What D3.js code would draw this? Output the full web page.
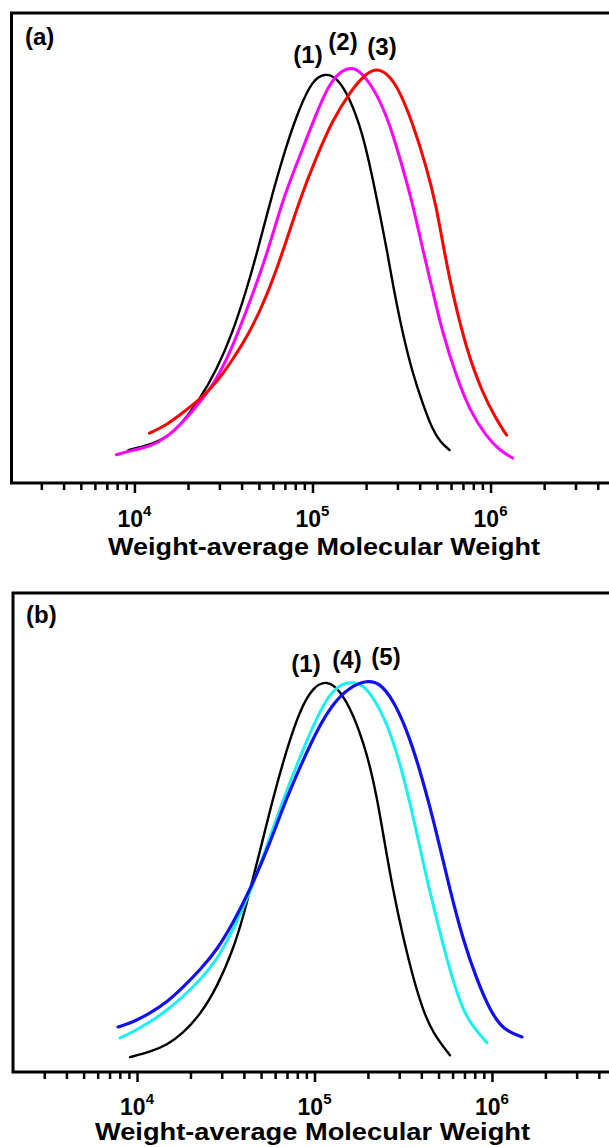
<!DOCTYPE html>
<html>
<head>
<meta charset="utf-8">
<script src="https://cdn.jsdelivr.net/npm/d3@7"></script>
<style>
  body { margin: 0; background: #fff; }
  text { font-family: "Liberation Sans", Arial, sans-serif; font-weight: bold; fill: #000; }
</style>
</head>
<body>
<div id="chart"></div>
<script>
// Data: [weight-average molecular weight, normalised signal]
const sample1a = [[9250,.070],[12140,.081],[15130,.096],[18610,.128],[23180,.177],[28890,.240],[35530,.319],[42590,.411],[48460,.485],[59620,.617],[71440,.719],[84530,.798],[100000,.857],[116800,.872],[136400,.864],[161400,.821],[190900,.745],[214600,.660],[241000,.566],[263800,.489],[281400,.426],[320300,.319],[364600,.234],[415000,.170],[472300,.113],[523900,.087],[588400,.070]];
const sample2 = [[7925,.060],[9745,.070],[12140,.077],[15130,.096],[18610,.128],[23180,.170],[28890,.219],[35530,.289],[44260,.383],[55870,.489],[67830,.602],[84530,.694],[105300,.787],[124600,.851],[147400,.879],[167800,.885],[190900,.872],[228800,.830],[270800,.766],[320300,.672],[364600,.596],[420400,.489],[472300,.411],[537500,.319],[644200,.226],[762200,.155],[949500,.098],[1123000,.070],[1329000,.053]];
const sample3 = [[12140,.106],[15130,.123],[18610,.149],[23180,.177],[28890,.213],[35530,.262],[44260,.319],[55150,.396],[67830,.489],[84530,.602],[105300,.694],[129500,.772],[161400,.830],[190900,.864],[223000,.883],[260500,.874],[308200,.836],[364600,.766],[436900,.672],[497300,.587],[551500,.489],[611600,.404],[733300,.283],[901900,.191],[1081000,.134],[1231000,.102]];

const sample1b = [[9130,.031],[11840,.042],[14760,.056],[18160,.081],[22640,.119],[28230,.177],[34740,.255],[39550,.322],[45040,.405],[50610,.478],[58370,.572],[69990,.676],[82850,.756],[98060,.804],[117600,.818],[139200,.797],[164800,.749],[197600,.666],[225000,.574],[249600,.474],[276900,.380],[315200,.282],[358800,.198],[408500,.129],[465100,.081],[579900,.035]];
const sample4 = [[8020,.071],[9495,.084],[11840,.104],[14760,.129],[18160,.157],[22640,.192],[28230,.234],[34740,.296],[43330,.374],[54700,.478],[66450,.568],[82850,.658],[103300,.741],[122300,.791],[144700,.812],[164800,.814],[187600,.808],[213600,.783],[256200,.729],[303300,.645],[345100,.562],[388000,.478],[430400,.401],[489800,.317],[557800,.234],[635000,.165],[723000,.109],[937500,.061]];
const sample5 = [[7815,.094],[9495,.104],[11840,.123],[14760,.146],[18160,.177],[22640,.213],[28230,.255],[34740,.311],[43330,.380],[56130,.478],[66450,.553],[82850,.637],[103300,.714],[127100,.770],[158500,.804],[197600,.818],[233900,.812],[276900,.777],[332000,.714],[392900,.630],[447500,.553],[502800,.478],[579900,.380],[686600,.276],[823200,.192],[974300,.129],[1153000,.088],[1476000,.073]];

const decades = [4, 5, 6];
const xTitle = "Weight-average Molecular Weight";

//SVG setup
const width = 609;
const height = 1147;

const svg = d3.select("#chart")
    .append("svg")
    .attr("width", width)
    .attr("height", height)
    .attr("viewBox", `0 0 ${width} ${height}`);

const panels = [
    {
        tag: "(a)", top: 13, bottom: 483, left: 11.5, xDomain: [2040, 5e6], xRight: 615,
        series: [
            { data: sample1a, color: "#000000", w: 2.4 },
            { data: sample2, color: "#ff00ff", w: 3 },
            { data: sample3, color: "#ff0000", w: 3 }
        ],
        labels: [["(1)", 308, 63], ["(2)", 343, 50], ["(3)", 382, 55]],
        tagPos: [25, 45], tickBase: 527, titleX: 108, titleBase: 555, titleLen: 432, titleSize: 24.5
    },
    {
        tag: "(b)", top: 593, bottom: 1072, left: 13, xDomain: [2000, 5e6], xRight: 616,
        series: [
            { data: sample1b, color: "#000000", w: 2.4 },
            { data: sample4, color: "#19f0f0", w: 3 },
            { data: sample5, color: "#1010f0", w: 3.2 }
        ],
        labels: [["(1)", 306, 672], ["(4)", 347, 668], ["(5)", 386, 665]],
        tagPos: [26, 623], tickBase: 1115, titleX: 95, titleBase: 1140, titleLen: 435, titleSize: 23.5
    }
];

panels.forEach(p => {
    const x = d3.scaleLog().domain(p.xDomain).range([p.left, p.xRight]);
    const y = d3.scaleLinear().domain([0, 1]).range([p.bottom, p.top]);

    const g = svg.append("g");

    // Frame (right side falls outside the picture)
    g.append("rect")
        .attr("x", p.left)
        .attr("y", p.top)
        .attr("width", p.xRight + 10 - p.left)
        .attr("height", p.bottom - p.top)
        .attr("fill", "none")
        .attr("stroke", "#000")
        .attr("stroke-width", 3);

    // Minor and major ticks
    const minor = [];
    for (let k = 3; k <= 6; k++) {
        for (let m = 2; m <= 9; m++) {
            const v = m * 10 ** k;
            if (v > p.xDomain[0] && v < p.xDomain[1]) minor.push(v);
        }
    }

    const minorAxis = d3.axisBottom(x).tickValues(minor).tickSize(7).tickSizeOuter(0).tickFormat("");
    const majorAxis = d3.axisBottom(x).tickValues(decades.map(d => 10 ** d)).tickSize(10).tickSizeOuter(0).tickFormat("");

    [minorAxis, majorAxis].forEach(ax => {
        const a = g.append("g")
            .attr("transform", `translate(0,${p.bottom})`)
            .call(ax);
        a.select(".domain").remove();
        a.selectAll(".tick line").attr("stroke", "#000").attr("stroke-width", 2.5);
    });

    // Tick labels 10^n
    g.selectAll("text.tick-label")
        .data(decades)
        .join("text")
        .attr("class", "tick-label")
        .attr("x", d => x(10 ** d))
        .attr("y", p.tickBase)
        .attr("text-anchor", "middle")
        .style("font-size", "23px")
        .each(function (d) {
            const t = d3.select(this);
            t.append("tspan").text("10");
            t.append("tspan").attr("dy", -11).style("font-size", "15px").text(d);
        });

    // Axis title
    g.append("text")
        .attr("x", p.titleX)
        .attr("y", p.titleBase)
        .attr("textLength", p.titleLen)
        .attr("lengthAdjust", "spacingAndGlyphs")
        .style("font-size", p.titleSize + "px")
        .text(xTitle);

    // Curves
    const line = d3.line()
        .x(d => x(d[0]))
        .y(d => y(d[1]))
        .curve(d3.curveBasis);

    g.selectAll("path.curve")
        .data(p.series)
        .join("path")
        .attr("class", "curve")
        .attr("d", s => line(s.data))
        .attr("fill", "none")
        .attr("stroke", s => s.color)
        .attr("stroke-width", s => s.w)
        .attr("stroke-linejoin", "round")
        .attr("stroke-linecap", "round");

    // Panel tag
    g.append("text")
        .attr("x", p.tagPos[0])
        .attr("y", p.tagPos[1])
        .style("font-size", "24px")
        .text(p.tag);

    // Curve labels
    g.selectAll("text.curve-label")
        .data(p.labels)
        .join("text")
        .attr("class", "curve-label")
        .attr("x", d => d[1])
        .attr("y", d => d[2])
        .attr("text-anchor", "middle")
        .style("font-size", "24px")
        .text(d => d[0]);
});
</script>
</body>
</html>
